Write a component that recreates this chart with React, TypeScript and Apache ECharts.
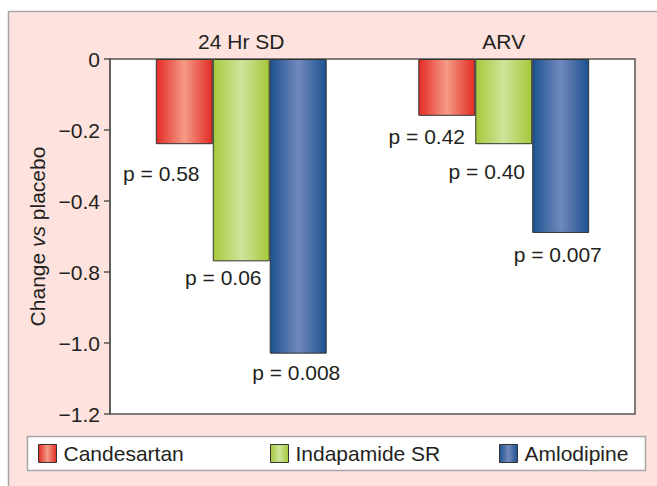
import React, { useEffect, useRef } from "react";
import * as echarts from "echarts";

const categories = ["24 Hr SD", "ARV"];
const seriesNames = ["Candesartan", "Indapamide SR", "Amlodipine"];
// change vs placebo, in the drawn axis's units
const candesartan = [-0.24, -0.16];
const indapamide = [-0.57, -0.24];
const amlodipine = [-0.83, -0.49];
const pCandesartan = ["0.58", "0.42"];
const pIndapamide = ["0.06", "0.40"];
const pAmlodipine = ["0.008", "0.007"];
// tick labels exactly as printed on the figure (top to bottom)
const tickLabels = ["0", "\u22120.2", "\u22120.4", "\u22120.8", "\u22121.0", "\u22121.2"];

const FONT = "'Liberation Sans', Arial, Helvetica, sans-serif";
const TXT = "#231f20";

const labelOffsets = [
  [[-23, 14], [-20, 5]],
  [[-18, 1], [-17, 12]],
  [[-2, 3], [-3, 6]],
];

const grad = (edge: string, mid: string) =>
  new echarts.graphic.LinearGradient(0, 0, 1, 0, [
    { offset: 0, color: edge },
    { offset: 0.5, color: mid },
    { offset: 1, color: edge },
  ]);

export default function App() {
  const ref = useRef<HTMLDivElement>(null);
  useEffect(() => {
    if (!ref.current) return;
    const chart = echarts.init(ref.current, undefined, { renderer: "svg" });
    const values = [candesartan, indapamide, amlodipine];
    const pvals = [pCandesartan, pIndapamide, pAmlodipine];
    const colors = [
      grad("#e32b25", "#f59a85"),
      grad("#a5c93a", "#d0e39b"),
      grad("#1d5292", "#7189bb"),
    ];
    const legendX = [38, 270, 499];
    chart.setOption({
      animation: false,
      backgroundColor: "#ffffff",
      textStyle: { fontFamily: FONT },
      graphic: [
        {
          type: "rect",
          z: -100,
          shape: { x: 8.5, y: 11.5, width: 700, height: 500 },
          style: { fill: "#fde2dd", stroke: "#a6a6a6", lineWidth: 1.5 },
        },
        {
          type: "rect",
          z: -50,
          shape: { x: 27.5, y: 436.5, width: 618, height: 34 },
          style: { fill: "#ffffff", stroke: "#a6a6a6", lineWidth: 1.5 },
        },
      ],
      legend: seriesNames.map((n, i) => ({
        data: [n],
        left: legendX[i],
        top: 443,
        padding: 0,
        itemWidth: 18,
        itemHeight: 18,
        itemGap: 0,
        icon: "rect",
        selectedMode: false,
        itemStyle: { borderColor: "#333", borderWidth: 1 },
        textStyle: { fontSize: 21, color: TXT, fontFamily: FONT, padding: [0, 0, 0, 2] },
      })),
      grid: {
        left: 110,
        top: 59,
        right: 22,
        bottom: 72,
        show: true,
        backgroundColor: "#ffffff",
        borderColor: "#555",
        borderWidth: 1.5,
      },
      xAxis: {
        type: "category",
        position: "top",
        data: categories,
        axisLine: { show: false },
        axisTick: { show: false },
        axisLabel: { fontSize: 21, color: TXT, fontFamily: FONT, margin: 7 },
      },
      yAxis: {
        type: "value",
        min: -1.0,
        max: 0,
        interval: 0.2,
        splitLine: { show: false },
        axisLine: { show: true, lineStyle: { color: "#555", width: 1.5 } },
        axisTick: { show: true, inside: false, length: 6, lineStyle: { color: "#555", width: 1.5 } },
        axisLabel: {
          fontSize: 21,
          color: TXT,
          fontFamily: FONT,
          margin: 10,
          formatter: (v: number) => tickLabels[Math.round(-v / 0.2)],
        },
        name: "Change {i|vs} placebo",
        nameLocation: "middle",
        nameGap: 62,
        nameRotate: 90,
        nameTextStyle: {
          fontSize: 21,
          color: TXT,
          fontFamily: FONT,
          rich: { i: { fontSize: 21, fontStyle: "italic", color: TXT, fontFamily: FONT } },
        },
      },
      series: seriesNames.map((n, si) => ({
        name: n,
        type: "bar",
        barGap: "0%",
        barCategoryGap: "34.9%",
        itemStyle: { color: colors[si], borderColor: "#333", borderWidth: 1 },
        label: {
          show: true,
          position: "outside",
          fontSize: 21,
          color: TXT,
          fontFamily: FONT,
          formatter: (p: any) => "p = " + pvals[si][p.dataIndex],
        },
        data: values[si].map((v, di) => ({
          value: v,
          label: { offset: labelOffsets[si][di] },
        })),
      })),
    });
    return () => chart.dispose();
  }, []);
  return (
    <div
      ref={ref}
      style={{ position: "fixed", left: 0, top: 0, width: 657, height: 486 }}
    />
  );
}
